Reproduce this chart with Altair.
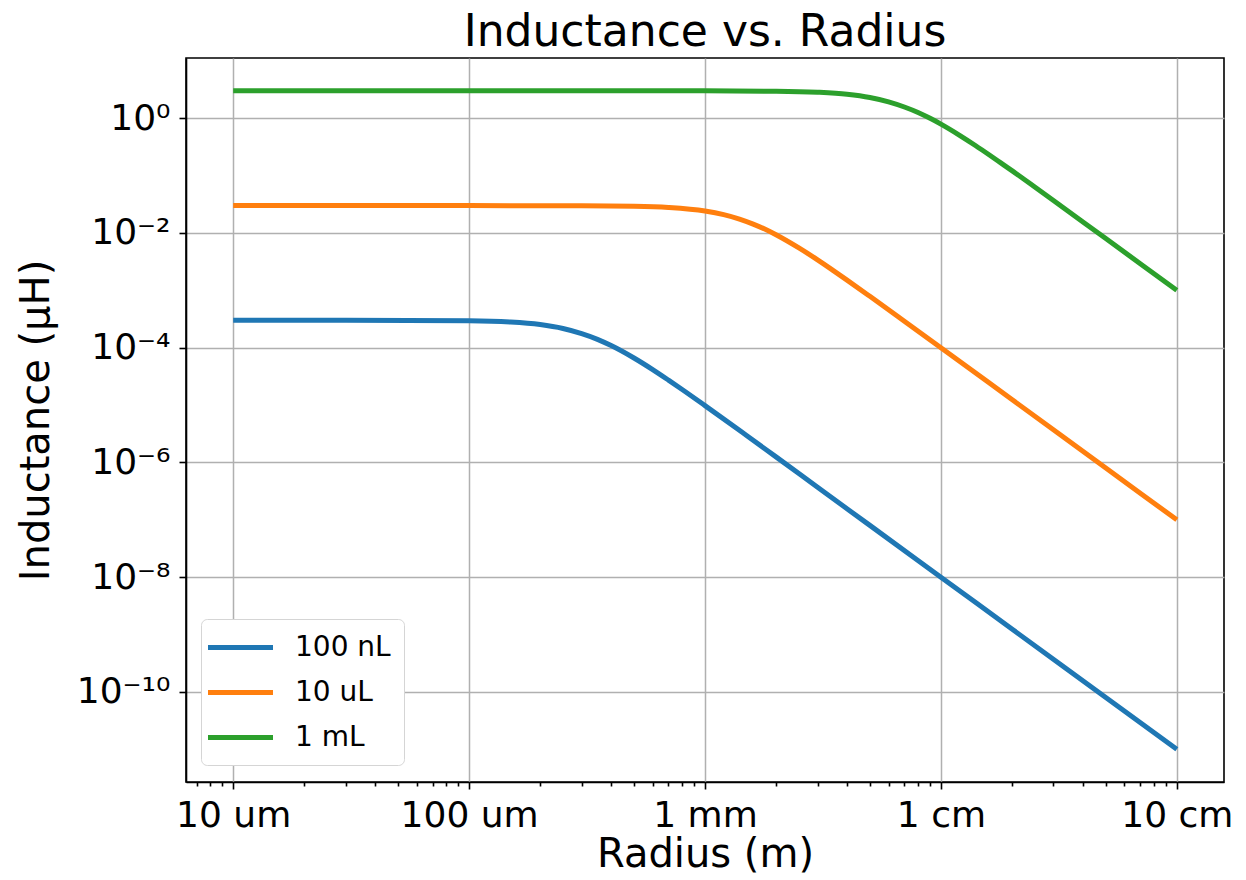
import altair as alt
import pandas as pd
import math

# ---- data (radius in m, inductance in uH) ----
series_names = ["100 nL", "10 uL", "1 mL"]
series_colors = ["#1f77b4", "#ff7f0e", "#2ca02c"]

r_100nL = [1e-5, 3e-5, 1e-4, 1.5e-4, 2e-4, 2.5e-4, 3e-4, 3.5e-4, 4e-4, 5e-4, 6e-4,
           7e-4, 8e-4, 1e-3, 1.5e-3, 2e-3, 3e-3, 5e-3, 1e-2, 2e-2, 5e-2, 1e-1]
L_100nL = [3.0e-4, 3.0e-4, 2.94e-4, 2.80e-4, 2.53e-4, 2.16e-4, 1.76e-4, 1.40e-4, 1.09e-4,
           6.61e-5, 4.15e-5, 2.72e-5, 1.87e-5, 9.79e-6, 2.95e-6, 1.25e-6, 3.70e-7, 8.0e-8,
           1.0e-8, 1.25e-9, 8.0e-11, 1.0e-11]

r_10uL = [1e-5, 1e-4, 3e-4, 5e-4, 7e-4, 1e-3, 1.2e-3, 1.4e-3, 1.6e-3, 1.8e-3, 2e-3,
          2.5e-3, 3e-3, 3.5e-3, 4e-3, 5e-3, 7e-3, 1e-2, 2e-2, 5e-2, 1e-1]
L_10uL = [3.0e-2, 3.0e-2, 2.99e-2, 2.93e-2, 2.79e-2, 2.42e-2, 2.09e-2, 1.75e-2, 1.43e-2,
          1.16e-2, 9.32e-3, 5.49e-3, 3.40e-3, 2.21e-3, 1.51e-3, 7.87e-4, 2.90e-4, 1.0e-4,
          1.25e-5, 8.0e-7, 1.0e-7]

r_1mL = [1e-5, 1e-4, 1e-3, 2e-3, 3e-3, 4e-3, 5e-3, 6e-3, 7e-3, 8e-3, 9e-3, 1e-2,
         1.2e-2, 1.4e-2, 1.6e-2, 1.8e-2, 2e-2, 2.5e-2, 3e-2, 4e-2, 5e-2, 7e-2, 1e-1]
L_1mL = [3.0, 3.0, 3.0, 2.96, 2.84, 2.62, 2.30, 1.93, 1.57, 1.26, 0.996, 0.789,
         0.504, 0.335, 0.231, 0.165, 0.122, 0.0632, 0.0368, 0.01558, 7.99e-3, 2.915e-3, 1.0e-3]

x_ticks = [1e-5, 1e-4, 1e-3, 1e-2, 1e-1]
x_tick_labels = ["10 um", "100 um", "1 mm", "1 cm", "10 cm"]
x_minor_ticks = [7e-6, 8e-6, 9e-6,
                 2e-5, 3e-5, 4e-5, 5e-5, 6e-5, 7e-5, 8e-5, 9e-5,
                 2e-4, 3e-4, 4e-4, 5e-4, 6e-4, 7e-4, 8e-4, 9e-4,
                 2e-3, 3e-3, 4e-3, 5e-3, 6e-3, 7e-3, 8e-3, 9e-3,
                 2e-2, 3e-2, 4e-2, 5e-2, 6e-2, 7e-2, 8e-2, 9e-2]
y_ticks = [1e0, 1e-2, 1e-4, 1e-6, 1e-8, 1e-10]
y_tick_labels = ["10⁰", "10⁻²", "10⁻⁴", "10⁻⁶", "10⁻⁸", "10⁻¹⁰"]

x_domain = [10 ** -5.2, 10 ** -0.8]
y_domain = [10 ** -11.57, 10 ** 1.05]

rows = []
for name, rs, ls in [(series_names[0], r_100nL, L_100nL),
                     (series_names[1], r_10uL, L_10uL),
                     (series_names[2], r_1mL, L_1mL)]:
    for i, (r, L) in enumerate(zip(rs, ls)):
        rows.append({"series": name, "r": r, "L": L, "order": i})
df = pd.DataFrame(rows)


def label_expr(ticks, labels):
    expr = "''"
    for t, lab in reversed(list(zip(ticks, labels))):
        e = round(math.log10(t))
        expr = f"(round(log(datum.value)/LN10) == {e}) ? '{lab}' : {expr}"
    return expr


FONT = "DejaVu Sans"
W, H = 1038, 724

xscale = alt.Scale(type="log", domain=x_domain, nice=False)
yscale = alt.Scale(type="log", domain=y_domain, nice=False)

color = alt.Color(
    "series:N",
    sort=series_names,
    scale=alt.Scale(domain=series_names, range=series_colors),
    legend=alt.Legend(
        title=None, orient="none", legendX=15, legendY=561,
        symbolType="M-2.5,0L2.5,0", symbolSize=676, symbolStrokeWidth=5,
        symbolOffset=11, labelOffset=39,
        labelFontSize=28, labelFont=FONT, labelColor="black",
        padding=13, rowPadding=15, strokeColor="#d5d5d5", fillColor="white",
        cornerRadius=6,
    ),
)

lines = alt.Chart(df).mark_line(strokeWidth=5, interpolate="monotone", clip=True).encode(
    x=alt.X("r:Q", scale=xscale, axis=alt.Axis(
        values=x_ticks, labelExpr=label_expr(x_ticks, x_tick_labels),
        title="Radius (m)", titleFontSize=40, titleY=84, titleBaseline="alphabetic",
        tickSize=7, labelPadding=9, grid=True, orient="bottom",
    )),
    y=alt.Y("L:Q", scale=yscale, axis=alt.Axis(
        values=y_ticks, labelExpr=label_expr(y_ticks, y_tick_labels),
        title="Inductance (μH)", titleFontSize=40, titleX=-138, titleY=H / 2,
        titleAngle=-90, titleBaseline="alphabetic", titleAlign="center",
        tickSize=7, labelPadding=9, grid=True,
    )),
    color=color,
    order="order:Q",
)

minor = alt.Chart(df).mark_point(opacity=0).encode(
    x=alt.X("r:Q", scale=xscale, axis=alt.Axis(
        values=x_minor_ticks, labels=False, tickSize=4, grid=False, domain=False,
        title=None, orient="bottom",
    )),
)

chart = alt.layer(lines, minor).resolve_axis(x="independent").properties(
    width=W, height=H,
    title=alt.TitleParams("Inductance vs. Radius", fontSize=44, font=FONT,
                          fontWeight="normal", anchor="middle", frame="group",
                          offset=3, color="black"),
    autosize=alt.AutoSizeParams(type="none"),
    padding={"left": 178, "top": 50, "right": 14, "bottom": 96},
).configure_view(
    stroke="black", strokeWidth=1.6,
).configure_axis(
    labelFont=FONT, labelFontSize=36, labelColor="black",
    titleFont=FONT, titleFontWeight="normal", titleColor="black",
    tickColor="black", tickWidth=1.6, domainColor="black", domainWidth=1.6,
    gridColor="#b0b0b0", gridWidth=1.5, labelFlush=False, labelOverlap=False,
)

chart.save("out.html", embed_options={"renderer": "svg", "actions": False})
